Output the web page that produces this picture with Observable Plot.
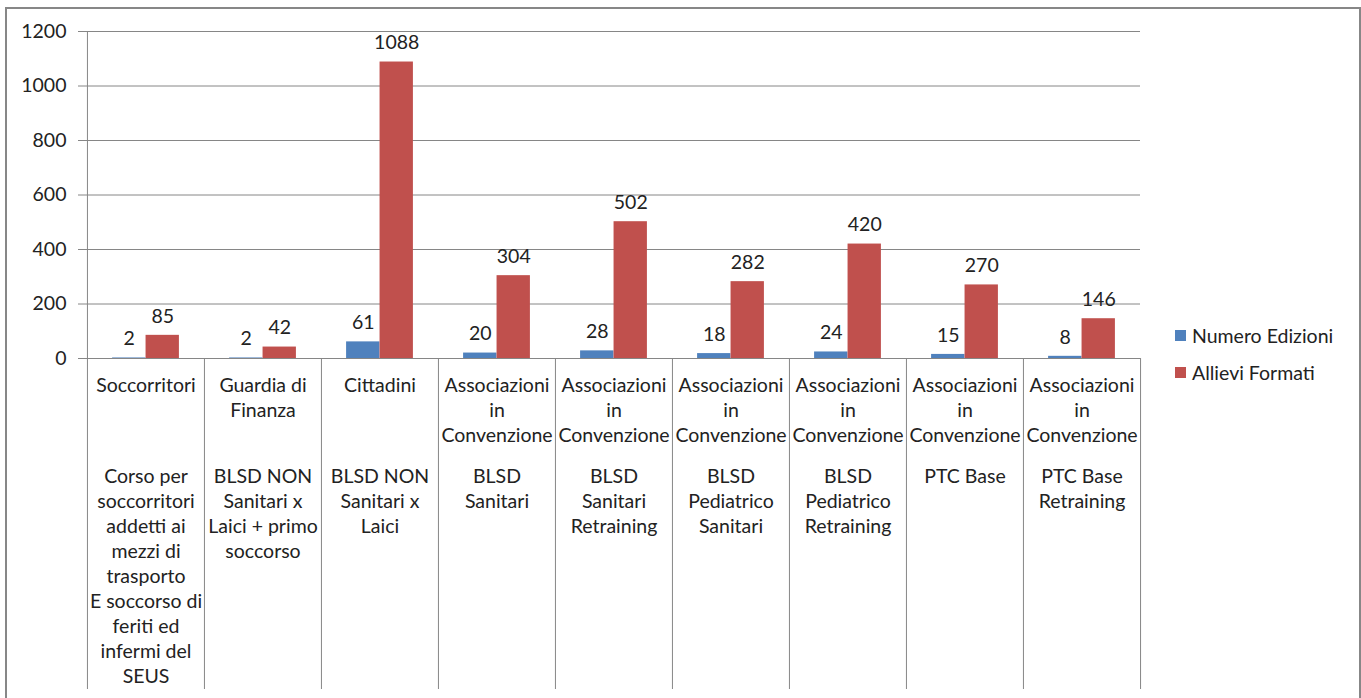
<!DOCTYPE html>
<html>
<head>
<meta charset="utf-8">
<script src="https://cdn.jsdelivr.net/npm/d3@7"></script>
<script src="https://cdn.jsdelivr.net/npm/@observablehq/plot@0.6"></script>
<style>
  body { margin: 0; background: #fff; }
  #chart { position: relative; width: 1361px; height: 698px; overflow: hidden; font-family: Lato, sans-serif; color: #222; }
  #chart svg { position: absolute; left: 0; top: 0; }
  #border { position: absolute; left: 5px; top: 7px; width: 1356px; height: 720px; box-sizing: border-box; border: 2px solid #878787; }
  .legend-item { position: absolute; left: 1175px; height: 24px; display: flex; align-items: center; font-size: 19.5px; white-space: nowrap; }
  .legend-item span.sw { display: inline-block; width: 11px; height: 11px; margin-right: 6px; }
</style>
</head>
<body>
<div id="chart"><div id="border"></div></div>
<script>
// Target groups (first level of the category axis)
const groups = [
  "Soccorritori",
  "Guardia di\nFinanza",
  "Cittadini",
  "Associazioni\nin\nConvenzione",
  "Associazioni\nin\nConvenzione",
  "Associazioni\nin\nConvenzione",
  "Associazioni\nin\nConvenzione",
  "Associazioni\nin\nConvenzione",
  "Associazioni\nin\nConvenzione"
];
// Courses (second level of the category axis)
const courses = [
  "Corso per\nsoccorritori\naddetti ai\nmezzi di\ntrasporto\nE soccorso di\nferiti ed\ninfermi del\nSEUS",
  "BLSD NON\nSanitari x\nLaici + primo\nsoccorso",
  "BLSD NON\nSanitari x\nLaici",
  "BLSD\nSanitari",
  "BLSD\nSanitari\nRetraining",
  "BLSD\nPediatrico\nSanitari",
  "BLSD\nPediatrico\nRetraining",
  "PTC Base",
  "PTC Base\nRetraining"
];
const seriesNames = ["Numero Edizioni", "Allievi Formati"];
const seriesColors = ["#4F81BD", "#C0504D"];
const numeroEdizioni = [2, 2, 61, 20, 28, 18, 24, 15, 8];
const allieviFormati = [85, 42, 1088, 304, 502, 282, 420, 270, 146];
const yTicks = [0, 200, 400, 600, 800, 1000, 1200];

const rows = courses.map((c, i) => ({
  course: c, group: groups[i], ed: numeroEdizioni[i], al: allieviFormati[i]
}));

// Layout
const W = 1361, H = 698;
const mL = 86, mR = 221, mT = 31, mB = 340;
const frameH = H - mT - mB;
const catDepth = 331;                       // depth of the category axis box below zero
const step = (W - mL - mR) / courses.length; // width of one category
const barW = step / 3.5;                     // two bars + 150% gap
const outer = barW * 0.75;
const fs = 19.5;
const grid = "#868686";

const plot = Plot.plot({
  width: W, height: H,
  marginLeft: mL, marginRight: mR, marginTop: mT, marginBottom: mB,
  style: { fontFamily: "Lato, sans-serif", fontSize: fs + "px", color: "#222", background: "transparent", overflow: "visible" },
  x: { type: "band", domain: courses, padding: 0, axis: null },
  y: { domain: [0, 1200], axis: null },
  marks: [
    Plot.gridY(yTicks, { stroke: grid, strokeOpacity: 1 }),
    Plot.axisY(yTicks, { tickSize: 8, tickPadding: 12, stroke: grid, fill: "#222", tickFormat: d => String(d), fontSize: fs }),
    // vertical axis line, continued down through the category box
    Plot.ruleX([courses[0]], { dx: -step / 2, insetBottom: -catDepth, stroke: grid }),
    // category separators
    Plot.ruleX(courses.slice(1), { x: d => d, dx: -step / 2, insetTop: frameH, insetBottom: -catDepth, stroke: grid }),
    Plot.ruleX([courses[courses.length - 1]], { dx: step / 2, insetTop: frameH, insetBottom: -catDepth, stroke: grid }),
    // bars
    Plot.barY(rows, { x: "course", y: "ed", fill: seriesColors[0], insetLeft: outer, insetRight: step - outer - barW }),
    Plot.barY(rows, { x: "course", y: "al", fill: seriesColors[1], insetLeft: outer + barW, insetRight: outer }),
    // value labels
    Plot.text(rows, { x: "course", y: "ed", text: d => String(d.ed), dx: -barW / 2, dy: -19, lineAnchor: "middle", fill: "#222" }),
    Plot.text(rows, { x: "course", y: "al", text: d => String(d.al), dx: barW / 2, dy: -19, lineAnchor: "middle", fill: "#222" }),
    // category axis labels
    Plot.text(rows, { x: "course", y: () => 0, text: "group", lineAnchor: "top", dy: 16, lineHeight: 25 / fs, fill: "#222" }),
    Plot.text(rows, { x: "course", y: () => 0, text: "course", lineAnchor: "top", dy: 107, lineHeight: 25 / fs, fill: "#222" })
  ]
});
const chart = document.getElementById("chart");
chart.appendChild(plot);

// Legend
const legendCenters = [335.5, 372];
seriesNames.forEach((name, i) => {
  const item = document.createElement("div");
  item.className = "legend-item";
  item.style.top = (legendCenters[i] - 12) + "px";
  item.innerHTML = `<span class="sw" style="background:${seriesColors[i]}"></span><span></span>`;
  item.lastChild.textContent = name;
  chart.appendChild(item);
});
</script>
</body>
</html>
